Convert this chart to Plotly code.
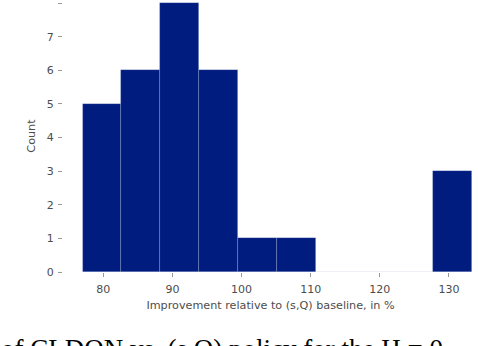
import plotly.graph_objects as go

# histogram bins (improvement in %, count per bin)
bin_left = [77.0, 82.63, 88.26, 93.89, 99.52, 105.15, 110.78, 116.41, 122.04, 127.67]
bin_width = 5.63
counts = [5, 6, 8, 6, 1, 1, 0, 0, 0, 3]
x_ticks = [80, 90, 100, 110, 120, 130]
y_ticks = [0, 1, 2, 3, 4, 5, 6, 7, 8]

BAR_COLOR = "#001c7f"
TEXT_COLOR = "#4d4d4d"

centers = [b + bin_width / 2 for b in bin_left]

fig = go.Figure(go.Bar(
    x=centers,
    y=counts,
    width=[bin_width] * len(counts),
    marker=dict(color=BAR_COLOR, line=dict(color="rgba(200,210,240,0.3)", width=0.7)),
    showlegend=False,
))

fig.update_layout(
    width=478,
    height=346,
    margin=dict(l=63, r=0, t=0, b=74),
    plot_bgcolor="white",
    paper_bgcolor="white",
    font=dict(family="DejaVu Sans", size=11, color=TEXT_COLOR),
    bargap=0,
)

fig.update_xaxes(
    range=[74.17, 134.2],
    tickvals=x_ticks,
    ticks="outside", ticklen=4, tickwidth=1, tickcolor="#999999",
    ticklabelstandoff=3,
    showgrid=False, zeroline=False, showline=False, automargin=False,
    title=dict(text="Improvement relative to (s,Q) baseline, in %", standoff=5,
               font=dict(size=11.2, color=TEXT_COLOR)),
)
fig.update_yaxes(
    range=[0, 8.09],
    tickvals=y_ticks,
    ticks="outside", ticklen=4, tickwidth=1, tickcolor="#999999",
    ticklabelstandoff=2,
    showgrid=False, zeroline=False, showline=False, automargin=False,
    title=dict(text="Count", standoff=8, font=dict(size=11.2, color=TEXT_COLOR)),
)

# caption line of the page below, mostly cut off by the crop
fig.add_annotation(
    text="of CLDON vs. (s,Q) policy for the H = 0",
    xref="paper", yref="paper", x=-0.155, y=-0.222,
    xanchor="left", yanchor="top", showarrow=False,
    font=dict(family="Liberation Serif", size=27, color="black"),
)

# drop the browser's default body margin so the figure sits at the corner
fig.write_html("out.html", config={"displayModeBar": False},
               post_script="document.body.style.margin='0';")
